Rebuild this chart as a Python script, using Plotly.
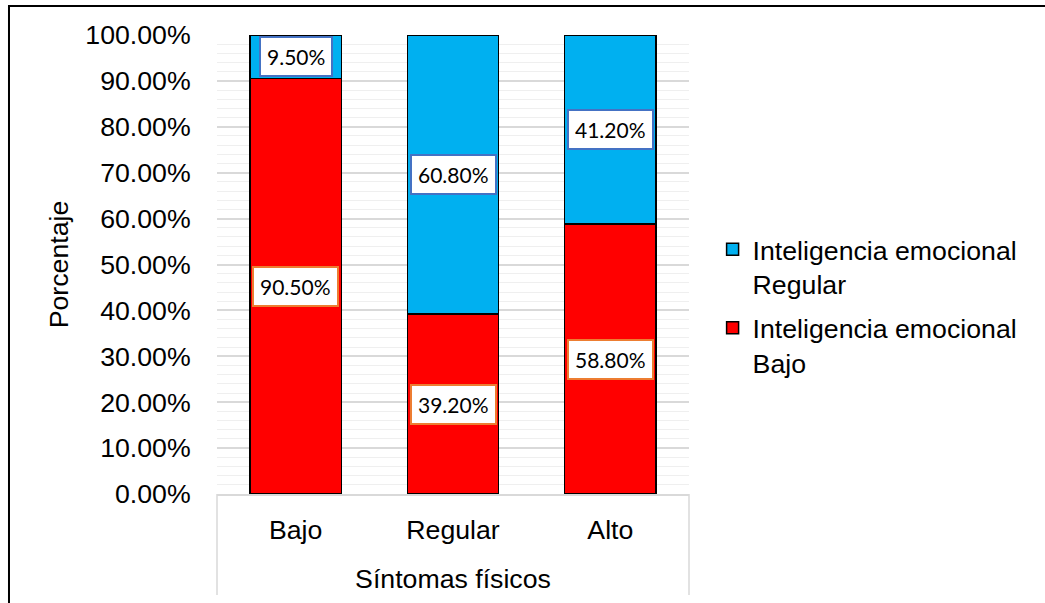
import plotly.graph_objects as go

categories = ["Bajo", "Regular", "Alto"]
ie_bajo = [90.5, 39.2, 58.8]
ie_regular = [9.5, 60.8, 41.2]
series_names = ["Inteligencia emocional<br>Bajo", "Inteligencia emocional<br>Regular"]
y_ticks = [0, 10, 20, 30, 40, 50, 60, 70, 80, 90, 100]

RED = "#FF0000"
BLUE = "#00B0F0"
FONT = "Liberation Sans, Arial, sans-serif"
FS = 26.7

fig = go.Figure()
fig.add_trace(go.Bar(x=categories, y=ie_bajo, name=series_names[0], legendgroup="bajo",
                     legendrank=2,
                     marker=dict(color=RED, line=dict(color="#000000", width=1.5))))
fig.add_trace(go.Bar(x=categories, y=ie_regular, name=series_names[1], legendgroup="regular",
                     legendrank=1,
                     marker=dict(color=BLUE, line=dict(color="#000000", width=1.5))))

label_font = dict(family="Lato, Carlito, sans-serif", size=21, color="#000000")
annotations = []
for c, b, r in zip(categories, ie_bajo, ie_regular):
    annotations.append(dict(x=c, y=b / 2, xref="x", yref="y", text=f"{b:.2f}%",
                            showarrow=False, bgcolor="#FFFFFF", bordercolor="#ED7D31",
                            borderwidth=2, borderpad=6, font=label_font))
    annotations.append(dict(x=c, y=b + r / 2, xref="x", yref="y", text=f"{r:.2f}%",
                            showarrow=False, bgcolor="#FFFFFF", bordercolor="#4472C4",
                            borderwidth=2, borderpad=6, font=label_font))

shapes = [
    # outer chart border
    dict(type="rect", xref="paper", yref="paper", x0=-0.4407, x1=1.80, y0=-0.30, y1=1.0632,
         line=dict(color="#000000", width=2), fillcolor="rgba(0,0,0,0)", layer="below"),
    # category axis box sides
    dict(type="line", xref="paper", yref="paper", x0=0, x1=0, y0=0, y1=-0.22,
         line=dict(color="#D9D9D9", width=1.5)),
    dict(type="line", xref="paper", yref="paper", x0=1, x1=1, y0=0, y1=-0.22,
         line=dict(color="#D9D9D9", width=1.5)),
]

fig.update_layout(
    width=1045, height=603,
    margin=dict(l=217, r=356, t=35, b=109),
    barmode="stack", bargap=0.42,
    paper_bgcolor="#FFFFFF", plot_bgcolor="#FFFFFF",
    font=dict(family=FONT, size=FS, color="#000000"),
    annotations=annotations,
    shapes=shapes,
    legend=dict(x=1.05, y=0.585, xanchor="left", yanchor="top", traceorder="grouped",
                valign="top", font=dict(family=FONT, size=FS, color="#000000"),
                tracegroupgap=6, bgcolor="rgba(0,0,0,0)"),
)
fig.update_xaxes(
    showline=True, linecolor="#D9D9D9", linewidth=1.5,
    ticks="outside", ticklen=11, tickcolor="rgba(0,0,0,0)",
    tickfont=dict(family=FONT, size=FS, color="#000000"),
    title=dict(text="Síntomas físicos", standoff=26,
               font=dict(family=FONT, size=FS, color="#000000")),
)
fig.update_yaxes(
    range=[0, 100], tickvals=y_ticks, ticktext=[f"{v:.2f}%" for v in y_ticks],
    showgrid=True, gridcolor="#D9D9D9", gridwidth=1.5, zeroline=False,
    minor=dict(dtick=2, showgrid=True, gridcolor="#EFEFEF", gridwidth=1),
    ticks="outside", ticklen=20, tickcolor="rgba(0,0,0,0)",
    tickfont=dict(family=FONT, size=FS, color="#000000"),
    title=dict(text="Porcentaje", standoff=8,
               font=dict(family=FONT, size=FS, color="#000000")),
)

fig.write_html("out.html")
